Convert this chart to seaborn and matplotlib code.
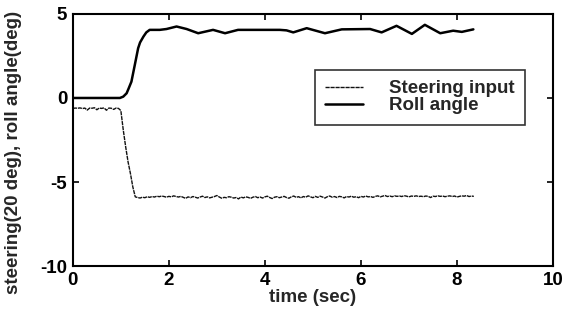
import numpy as np
import pandas as pd
import seaborn as sns
import matplotlib.pyplot as plt

# roll angle (deg), sampled where the curve changes shape
roll_t = [0, 0.98, 1.05, 1.12, 1.16, 1.22, 1.29, 1.36, 1.40, 1.47, 1.53, 1.60,
          1.81, 1.95, 2.16, 2.37, 2.61, 2.92, 3.17, 3.44, 4.31, 4.45, 4.59,
          4.87, 5.25, 5.60, 6.19, 6.43, 6.74, 7.06, 7.33, 7.65, 7.92, 8.10, 8.34]
roll_v = [0, 0, 0.08, 0.28, 0.55, 0.97, 1.96, 2.96, 3.30, 3.65, 3.90, 4.05,
          4.05, 4.10, 4.25, 4.10, 3.85, 4.05, 3.85, 4.05, 4.05, 4.02, 3.90,
          4.15, 3.85, 4.08, 4.10, 3.90, 4.29, 3.81, 4.35, 3.85, 4.00, 3.93, 4.08]

# steering input (20 deg units), one value every 0.05 s from 0 to 8.35 s
steer_pre = [-0.62, -0.60, -0.61, -0.59, -0.63, -0.60, -0.72, -0.60, -0.61, -0.58,
             -0.70, -0.60, -0.62, -0.59, -0.73, -0.60, -0.61, -0.68, -0.60, -0.62]
steer_drop = [-0.75, -1.90, -2.90, -3.80, -4.50, -5.30]
steer_post = [
    -5.88, -5.92, -5.95, -5.90, -5.93, -5.87, -5.91, -5.86, -5.89, -5.84,
    -5.87, -5.83, -5.86, -5.90, -5.85, -5.88, -5.82, -5.86, -5.89, -5.85,
    -5.91, -5.97, -5.88, -5.93, -5.86, -5.90, -5.95, -5.89, -5.84, -5.92,
    -5.88, -5.94, -5.90, -5.86, -5.80, -5.89, -5.96, -5.91, -5.93, -5.87,
    -5.90, -5.95, -5.92, -6.00, -5.89, -5.94, -5.88, -5.91, -5.97, -5.90,
    -5.86, -5.93, -5.89, -5.95, -5.88, -5.84, -5.92, -5.98, -5.90, -5.87,
    -5.93, -5.89, -5.85, -5.92, -5.96, -5.88, -5.83, -5.91, -5.87, -5.94,
    -5.86, -5.90, -5.82, -5.88, -5.93, -5.85, -5.91, -5.84, -5.89, -5.95,
    -5.87, -5.83, -5.90, -5.86, -5.92, -5.85, -5.88, -5.94, -5.86, -5.89,
    -5.84, -5.90, -5.87, -5.93, -5.85, -5.89, -5.83, -5.88, -5.86, -5.91,
    -5.85, -5.82, -5.88, -5.84, -5.80, -5.86, -5.83, -5.87, -5.82, -5.85,
    -5.83, -5.86, -5.81, -5.84, -5.88, -5.83, -5.85, -5.82, -5.86, -5.84,
    -5.87, -5.83, -5.85, -5.92, -5.84, -5.86, -5.82, -5.85, -5.83, -5.87,
    -5.84, -5.82, -5.86, -5.83, -5.89, -5.85, -5.82, -5.84, -5.80, -5.86,
    -5.83, -5.85]
steer_v = steer_pre + steer_drop + steer_post
steer_t = np.round(np.arange(len(steer_v)) * 0.05, 2)

sns.set_style("ticks")
plt.rcParams['font.family'] = ['Liberation Sans', 'DejaVu Sans']
plt.rcParams['font.weight'] = 'bold'
plt.rcParams['axes.labelweight'] = 'bold'
plt.rcParams['axes.unicode_minus'] = False

fig = plt.figure(figsize=(5.69, 3.23), dpi=100)
ax = fig.add_axes([0.128, 0.176, 0.844, 0.781])

sns.lineplot(x=steer_t, y=steer_v, ax=ax, color='#111111', linewidth=1.0,
             linestyle=(0, (3, 0.6)), label='Steering input')
sns.lineplot(x=roll_t, y=roll_v, ax=ax, color='black', linewidth=1.8,
             label='Roll angle')

ax.set_xlim(0, 10)
ax.set_ylim(-10, 5)
ax.set_xticks([0, 2, 4, 6, 8, 10])
ax.set_yticks([-10, -5, 0, 5])
ax.tick_params(direction='in', length=4, width=1.2, top=True, right=True,
               labelsize=13.5, colors='black', pad=4)
for s in ax.spines.values():
    s.set_visible(True)
    s.set_linewidth(1.5)
    s.set_color('black')

ax.set_xlabel('time (sec)', fontsize=13.5, labelpad=0)
ax.set_ylabel('steering(20 deg), roll angle(deg)', fontsize=13.5)
ax.yaxis.set_label_coords(-0.105, 0.45)

leg = ax.legend(loc='upper left', bbox_to_anchor=(0.504, 0.778), borderaxespad=0,
                fontsize=13.5, frameon=True, fancybox=False, handlelength=2.0,
                handletextpad=1.4, labelspacing=0.0, borderpad=0.55)
leg.get_frame().set_edgecolor('black')
leg.get_frame().set_linewidth(1.2)

fig.savefig('out.png', dpi=100)
